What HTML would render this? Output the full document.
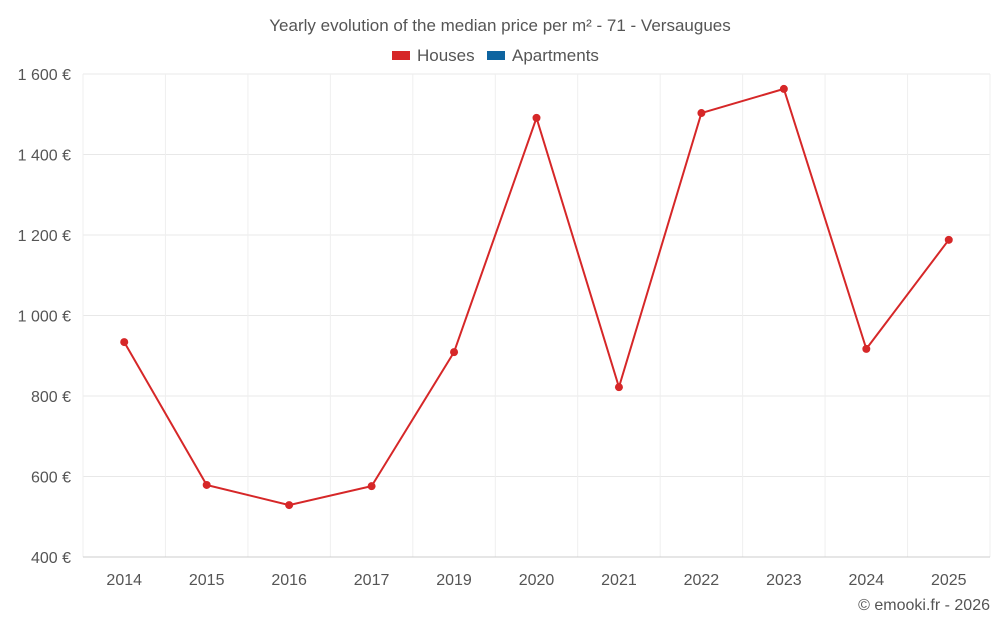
<!DOCTYPE html>
<html><head><meta charset="utf-8">
<style>
html,body{margin:0;padding:0;background:#fff;}
svg{display:block;font-family:"Liberation Sans",Arial,sans-serif;}
</style></head>
<body>
<svg id="chart" width="1000" height="625">
  <text x="500" y="31" text-anchor="middle" font-size="17" fill="#555">Yearly evolution of the median price per m² - 71 - Versaugues</text>
  <g>
    <g>
      <rect x="392" y="51" width="18" height="9" fill="#d62728"/>
      <text x="417" y="61" font-size="17" fill="#555">Houses</text>
    </g>
    <g>
      <rect x="487" y="51" width="18" height="9" fill="#0e64a0"/>
      <text x="512" y="61" font-size="17" fill="#555">Apartments</text>
    </g>
  </g>
  <g id="grid"></g>
  <g id="yaxis"></g>
  <g id="xaxis"></g>
  <g id="series"></g>
  <text x="990" y="610" text-anchor="end" font-size="16" fill="#555">© emooki.fr - 2026</text>
</svg>
<script>
const categories = ["2014","2015","2016","2017","2019","2020","2021","2022","2023","2024","2025"];
const houses = [934, 579, 529, 576, 909, 1491, 822, 1503, 1563, 917, 1188];
const yTicks = [400, 600, 800, 1000, 1200, 1400, 1600];
const yTickLabels = ["400 €","600 €","800 €","1 000 €","1 200 €","1 400 €","1 600 €"];

const NS = "http://www.w3.org/2000/svg";
const L = 83, R = 990, T = 74, B = 557, yMin = 400, yMax = 1600;
const band = (R - L) / categories.length;
const xPos = i => L + band * (i + 0.5);
const yPos = v => B - (v - yMin) / (yMax - yMin) * (B - T);
function mk(tag, attrs, parent) {
  const e = document.createElementNS(NS, tag);
  for (const k in attrs) e.setAttribute(k, attrs[k]);
  parent.appendChild(e);
  return e;
}
const grid = document.getElementById("grid");
const yaxis = document.getElementById("yaxis");
const xaxis = document.getElementById("xaxis");
const series = document.getElementById("series");

yTicks.forEach((t, i) => {
  const y = yPos(t);
  if (i > 0) {
    const gl = mk("line", {x1: L, x2: R, y1: y, y2: y, stroke: "#e8e8e8", "stroke-width": 1}, grid);
    
    
  }
  const tx = mk("text", {x: 71, y: y + 6, "text-anchor": "end", "font-size": 16, fill: "#555"}, yaxis);
  tx.textContent = yTickLabels[i];
  
  
});
for (let i = 0; i <= categories.length; i++) {
  const x = L + band * i;
  const vl = mk("line", {x1: x, x2: x, y1: T, y2: B, stroke: "#efefef", "stroke-width": 1}, grid);
  
  
}
const base = mk("line", {x1: L, x2: R, y1: B, y2: B, stroke: "#ccc", "stroke-width": 1}, xaxis);


categories.forEach((c, i) => {
  const tx = mk("text", {x: xPos(i), y: 585, "text-anchor": "middle", "font-size": 16, fill: "#555"}, xaxis);
  tx.textContent = c;
  
  
});
const pts = houses.map((v, i) => xPos(i) + "," + yPos(v)).join(" ");
const line = mk("polyline", {points: pts, fill: "none", stroke: "#d62728", "stroke-width": 2}, series);


houses.forEach((v, i) => {
  const c = mk("circle", {cx: xPos(i), cy: yPos(v), r: 4, fill: "#d62728"}, series);
  
  
});
</script>
</body></html>
